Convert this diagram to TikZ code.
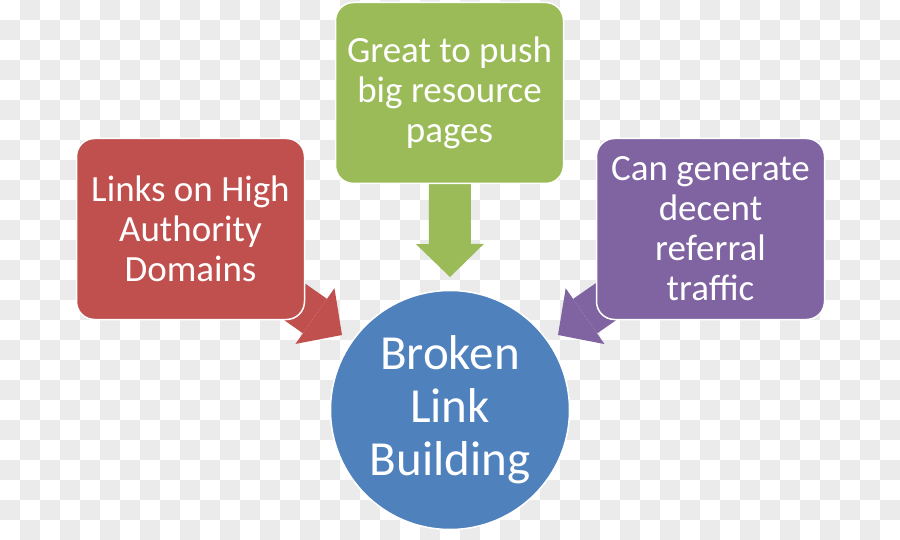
\documentclass[tikz,border=0pt]{standalone}
\usepackage{fontspec}
\setmainfont{Carlito}
\usetikzlibrary{arrows.meta}

\definecolor{boxred}{HTML}{C0504D}
\definecolor{boxgreen}{HTML}{9BBB59}
\definecolor{boxpurple}{HTML}{8064A2}
\definecolor{boxblue}{HTML}{4F81BD}
\definecolor{checkgray}{HTML}{EBEBEB}

\pgfdeclarelayer{checker}
\pgfdeclarelayer{arrowlayer}
\pgfsetlayers{checker,arrowlayer,main}

\begin{document}
\begin{tikzpicture}[
    x=1pt, y=-1pt,
    box/.style={
      rectangle,
      rounded corners=18pt,
      draw=white,
      line width=1.5pt,
      text=white,
      align=center,
      minimum width=228pt,
      minimum height=181pt,
      font=\fontsize{37}{40}\selectfont},
    hub/.style={
      circle,
      draw=white,
      line width=1.5pt,
      fill=boxblue,
      text=white,
      align=center,
      minimum size=239pt,
      font=\fontsize{49}{53}\selectfont},
    fatarrow/.style={
      line width=42pt,
      -{Triangle[width=68pt,length=33pt,line width=0pt]}}
    ]

  \useasboundingbox (0,0) rectangle (900,540);

  % checkered backdrop
  \begin{pgfonlayer}{checker}
    \fill[white] (0,0) rectangle (900,540);
    \foreach \j in {0,...,26}
      \foreach \i in {0,...,44} {
        \pgfmathtruncatemacro\odd{mod(\i+\j,2)}
        \ifnum\odd=1
          \fill[checkgray] (20*\i,20*\j) rectangle +(20,20);
        \fi
      }
  \end{pgfonlayer}

  \node at (190.5,229) (linksbox) [box, fill=boxred] {Links on High\\Authority\\Domains};
  \node at (449.5,93) (pushbox) [box, fill=boxgreen] {Great to push\\big resource\\pages};
  \node at (710.5,229) (trafficbox) [box, fill=boxpurple] {Can generate\\decent\\referral\\traffic};

  \node at (450,410) (broken) [hub] {Broken\\Link\\Building};

  \coordinate (redtip) at (342,335);
  \coordinate (greentip) at (450,277);
  \coordinate (purpletip) at (558,335);

  \begin{pgfonlayer}{arrowlayer}
    \draw [fatarrow, boxred] (linksbox.center) -- (redtip);
    \draw [fatarrow, boxgreen] (pushbox.center) -- (greentip);
    \draw [fatarrow, boxpurple] (trafficbox.center) -- (purpletip);
  \end{pgfonlayer}

\end{tikzpicture}
\end{document}
